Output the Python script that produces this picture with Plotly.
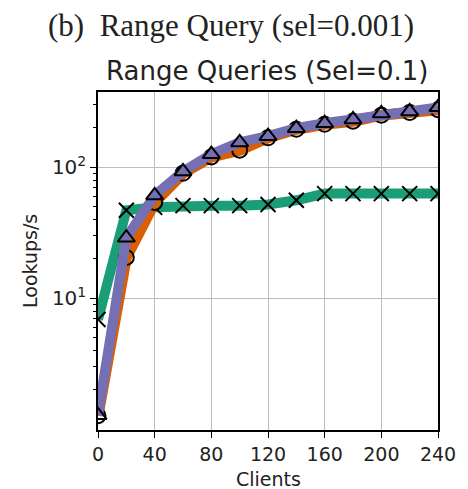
import plotly.graph_objects as go

clients = [0, 20, 40, 60, 80, 100, 120, 140, 160, 180, 200, 220, 240]
green_vals = [6.9, 47, 49.5, 51, 51, 51, 52, 56, 63, 63, 63, 63, 63]
orange_vals = [1.27, 20.5, 54, 90, 120, 135, 168, 195, 213, 225, 250, 262, 275]
purple_vals = [1.28, 29, 61, 93, 126, 155, 173, 199, 217, 232, 258, 267, 287]

x_ticks = [0, 40, 80, 120, 160, 200, 240]
y_ticks = [10, 100]
y_ticktext = ["10<sup>1</sup>", "10<sup>2</sup>"]

# page offset of the plot (browser body margin of 8px)
L, T, PW, PH = 90, 84, 340, 338

fig = go.Figure()

def add(vals, color, symbol, width, name):
    fig.add_trace(go.Scatter(
        x=clients, y=vals, mode="lines+markers", name=name,
        line=dict(color=color, width=width),
        marker=dict(symbol=symbol, size=15, color="black",
                    line=dict(color="black", width=2)),
        cliponaxis=True,
    ))

add(green_vals, "#1b9e77", "x-thin-open", 10, "A")
add(orange_vals, "#d95f02", "circle-open", 11, "B")
add(purple_vals, "#7570b3", "triangle-up-open", 10, "C")

minor_vals = [m * 10 ** e for e in range(0, 3) for m in range(2, 10)]

fig.update_layout(
    width=L + PW + 30, height=T + PH + 59,
    margin=dict(l=L, r=30, t=T, b=59),
    paper_bgcolor="white", plot_bgcolor="white",
    showlegend=False,
    font=dict(family="DejaVu Sans", size=19, color="#222"),
    xaxis=dict(
        range=[0, 240], tickvals=x_ticks, ticks="outside", ticklen=6,
        tickcolor="black", tickwidth=1.3, showgrid=True, gridcolor="#bdbdbd",
        gridwidth=1.3, showline=True, linecolor="black", linewidth=1.5,
        mirror=True, zeroline=False, tickfont=dict(size=19),
    ),
    yaxis=dict(
        type="log", range=[-0.005, 2.575], tickvals=y_ticks, ticktext=y_ticktext,
        ticks="outside", ticklen=6, tickcolor="black", tickwidth=1.3,
        showgrid=True, gridcolor="#bdbdbd", gridwidth=1.3, showline=True,
        linecolor="black", linewidth=1.5, mirror=True, zeroline=False,
        tickfont=dict(size=20),
        minor=dict(tickvals=minor_vals, ticks="outside", ticklen=3.5,
                   tickcolor="black", tickwidth=1, showgrid=False),
    ),
)

fig.add_annotation(text="(b)  Range Query (sel=0.001)", xref="paper", yref="paper",
                   x=(231 - 98) / PW, y=1 + (92 - 25) / PH, showarrow=False,
                   xanchor="center", yanchor="middle",
                   font=dict(family="Liberation Serif", size=31, color="#222"))
fig.add_annotation(text="Range Queries (Sel=0.1)", xref="paper", yref="paper",
                   x=(267 - 98) / PW, y=1 + (92 - 71) / PH, showarrow=False,
                   xanchor="center", yanchor="middle",
                   font=dict(family="DejaVu Sans", size=26, color="#222"))
fig.add_annotation(text="Clients", xref="paper", yref="paper",
                   x=0.5, y=(430 - 479) / PH, showarrow=False,
                   xanchor="center", yanchor="middle",
                   font=dict(family="DejaVu Sans", size=19, color="#222"))
fig.add_annotation(text="Lookups/s", xref="paper", yref="paper",
                   x=(30 - 98) / PW, y=(430 - 261) / PH, showarrow=False,
                   textangle=-90, xanchor="center", yanchor="middle",
                   font=dict(family="DejaVu Sans", size=19, color="#222"))

fig.write_html("out.html")
